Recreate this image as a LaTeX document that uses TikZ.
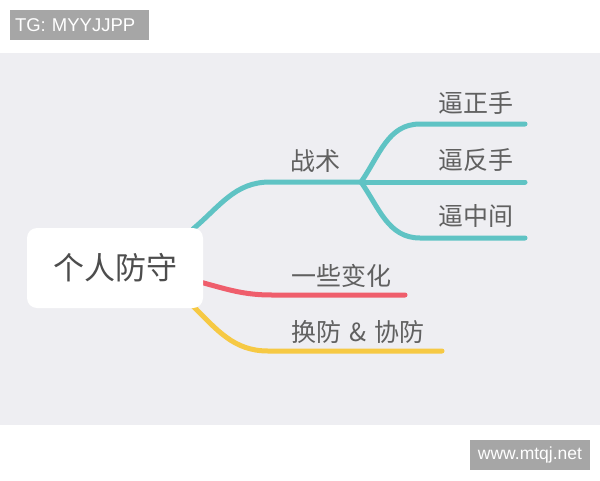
\documentclass[tikz,border=0pt]{standalone}
\usepackage{fontspec}
\setmainfont{Noto Sans CJK SC}
\setsansfont{Liberation Sans}
\definecolor{panelgray}{HTML}{EEEEF2}
\definecolor{tagbox}{HTML}{A6A6A6}
\definecolor{labeltext}{HTML}{606060}
\definecolor{tealbranch}{HTML}{5FC3C4}
\definecolor{redbranch}{HTML}{EF5E6C}
\definecolor{yellowbranch}{HTML}{F6C944}
\tikzset{
  branch/.style={line width=5pt, line cap=round},
  leaf/.style={text=labeltext, font=\fontsize{25}{27}\selectfont, inner sep=0pt},
  tag/.style={fill=tagbox, text=white, font=\sffamily\fontsize{18.5}{20}\selectfont, inner sep=0pt}
}
\begin{document}
\begin{tikzpicture}[x=1pt, y=-1pt]
        \useasboundingbox (0,0) rectangle (600,480);
        % Backgrounds
        \fill[white] (0,0) rectangle (600,480);
        \fill[panelgray] (0,53) rectangle (600,425);

        % Watermark tags
        \node[tag, minimum width=139pt, minimum height=30pt, text width=129pt, align=left] (tg) at (79.5,25) {TG: MYYJJPP};
        \node[tag, minimum width=120pt, minimum height=30pt, font=\sffamily\fontsize{17.5}{19}\selectfont] (site) at (530,455) {www.mtqj.net};

        % Branch points
        \coordinate (tacA) at (270,182);
        \coordinate (tacB) at (361,182);
        \coordinate (leafAa) at (420,124);
        \coordinate (leafAb) at (525,124);
        \coordinate (leafBb) at (525,182);
        \coordinate (leafCa) at (420,238);
        \coordinate (leafCb) at (525,238);
        \coordinate (varA) at (272,295);
        \coordinate (varB) at (405,295);
        \coordinate (swA) at (268,351);
        \coordinate (swB) at (442,351);

        % Teal branch
        \draw[branch, tealbranch] (193,229) to[out=40,in=180] (tacA) -- (tacB);
        \draw[branch, tealbranch] (tacB) to[out=55,in=180] (leafAa) -- (leafAb);
        \draw[branch, tealbranch] (tacB) -- (leafBb);
        \draw[branch, tealbranch] (tacB) to[out=-55,in=180] (leafCa) -- (leafCb);

        % Red and yellow branches
        \draw[branch, redbranch] (200,282) to[out=-15,in=180] (varA) -- (varB);
        \draw[branch, yellowbranch] (193,306) to[out=-45,in=180] (swA) -- (swB);

        % Root
        \node[fill=white, rounded corners=10pt, minimum width=176pt, minimum height=80pt,
              text=labeltext!80!black, font=\fontsize{31}{33}\selectfont] (root) at (115,268) {个人防守};

        % Labels
        \node[leaf] (tactics) at (315,161) {战术};
        \node[leaf] (forehand) at (476,103) {逼正手};
        \node[leaf] (backhand) at (476,160) {逼反手};
        \node[leaf] (middle) at (476,216) {逼中间};
        \node[leaf] (changes) at (341,276) {一些变化};
        \node[leaf] (switch) at (358,332) {换防\hspace{8pt}\&\hspace{8pt}协防};
\end{tikzpicture}
\end{document}
